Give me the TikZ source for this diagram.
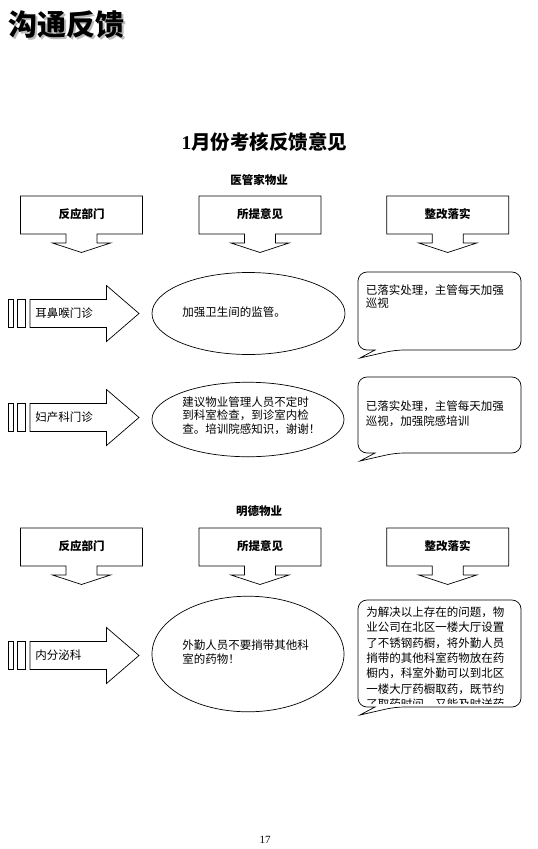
\documentclass[tikz,border=0pt]{standalone}
\usepackage{fontspec}
\setmainfont{Liberation Serif}
\newfontfamily\cjk{Noto Sans CJK SC}
\usetikzlibrary{shapes.geometric}
\tikzset{
    pics/headbox/.style={code={
        \draw (-61,-19) -- (61,-19) -- (61,19) -- (15.5,19) -- (15.5,28) -- (29,28) -- (0,37.5)
              -- (-29,28) -- (-15.5,28) -- (-15.5,19) -- (-61,19) -- cycle;
    }},
    pics/deptarrow/.style={code={
        \draw (8.6,-14) rectangle (13.7,14);
        \draw (17.2,-14) rectangle (25,14);
        \draw (30,-14) -- (106.5,-14) -- (106.5,-28) -- (139,0) -- (106.5,28) -- (106.5,14) -- (30,14) -- cycle;
    }},
    pics/talk/.style={code={
        \draw[rounded corners=9pt] (17,#1) -- (0,#1) -- (0,0) -- (163,0) -- (163,#1) -- (37,#1)
              [sharp corners] -- (2,#1+8) -- cycle;
    }},
    headtxt/.style={font=\cjk\bfseries\fontsize{11.5}{13}\selectfont, inner sep=0pt},
    bodytxt/.style={font=\cjk\fontsize{11.5}{13.7}\selectfont, align=left, inner sep=0pt},
    oval/.style={draw, shape=ellipse, inner sep=0pt}
}
\begin{document}
\begin{tikzpicture}[x=1pt, y=-1pt, line width=0.7pt]
    \useasboundingbox (0,0) rectangle (538,849);
    % titles
    \node[anchor=west, gray!55, font=\cjk\bfseries\fontsize{29}{30}\selectfont, inner sep=0pt] (titlesh) at (10.2,26.5) {沟通反馈};
    \node[anchor=west, font=\cjk\bfseries\fontsize{29}{30}\selectfont, inner sep=0pt] (title) at (8.6,25) {沟通反馈};
    \node[font=\fontsize{19.5}{21}\selectfont, inner sep=0pt] (month) at (264.5,142) {\textbf{1}{\cjk\bfseries 月份考核反馈意见}};
    \node[headtxt] (corp1) at (259,180) {医管家物业};
    \node[headtxt] (corp2) at (259,511) {明德物业};
    % section 1
    \pic at (81.5,215) {headbox};
    \pic at (260,215) {headbox};
    \pic at (447.7,215) {headbox};
    \node[headtxt] (hda1) at (81.5,214) {反应部门};
    \node[headtxt] (hdb1) at (260,214) {所提意见};
    \node[headtxt] (hdc1) at (447.7,214) {整改落实};
    \pic at (0,313.5) {deptarrow};
    \node[bodytxt, anchor=west] (ent) at (35,313) {耳鼻喉门诊};
    \node[oval, minimum width=193pt, minimum height=82pt] (ov1) at (248.5,313.5) {};
    \node[bodytxt, anchor=west] (ovt1) at (182,312) {加强卫生间的监管。};
    \pic at (358,272) {talk=78};
    \node[bodytxt, anchor=north west] (tk1) at (365.5,284) {已落实处理，主管每天加强\\巡视};
    \pic at (0,417.5) {deptarrow};
    \node[bodytxt, anchor=west] (gyn) at (35,417.5) {妇产科门诊};
    \node[oval, minimum width=192pt, minimum height=74.5pt] (ov2) at (248,419.5) {};
    \node[bodytxt, anchor=north west] (ovt2) at (182,396) {建议物业管理人员不定时\\到科室检查，到诊室内检\\查。培训院感知识，谢谢！};
    \pic at (358,377) {talk=76};
    \node[bodytxt, anchor=north west] (tk2) at (365.5,400) {已落实处理，主管每天加强\\[1.5pt]巡视，加强院感培训};
    % section 2
    \pic at (81.5,547) {headbox};
    \pic at (260,547) {headbox};
    \pic at (447.7,547) {headbox};
    \node[headtxt] (hda2) at (81.5,546) {反应部门};
    \node[headtxt] (hdb2) at (260,546) {所提意见};
    \node[headtxt] (hdc2) at (447.7,546) {整改落实};
    \pic at (0,655.5) {deptarrow};
    \node[bodytxt, anchor=west] (endo) at (35,655.5) {内分泌科};
    \node[oval, minimum width=192pt, minimum height=115.6pt] (ov3) at (248,654) {};
    \node[bodytxt, anchor=north west] (ovt3) at (182,639.5) {外勤人员不要捎带其他科\\室的药物！};
    \pic at (358,600) {talk=107};
    \begin{scope}
        \clip (359,601) rectangle (520,703);
        \node[bodytxt, font=\cjk\fontsize{11.5}{15.3}\selectfont, anchor=north west] (tk3) at (366,606.5) {为解决以上存在的问题，物\\业公司在北区一楼大厅设置\\了不锈钢药橱，将外勤人员\\捎带的其他科室药物放在药\\橱内，科室外勤可以到北区\\一楼大厅药橱取药，既节约\\了取药时间，又能及时送药};
    \end{scope}
    \node[font=\fontsize{11}{12}\selectfont, inner sep=0pt] (pgno) at (265,840) {17};
\end{tikzpicture}
\end{document}
